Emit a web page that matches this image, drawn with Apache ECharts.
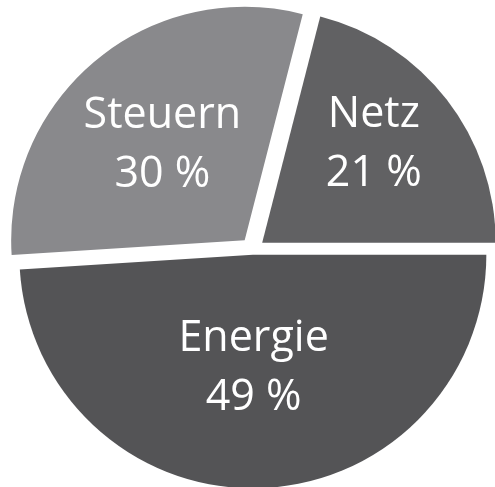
<!DOCTYPE html>
<html>
<head>
<meta charset="utf-8">
<script src="https://cdn.jsdelivr.net/npm/echarts@6/dist/echarts.min.js"></script>
<style>html,body{margin:0;padding:0;background:#fff;}#c{width:495px;height:487px;}</style>
</head>
<body>
<div id="c"></div>
<script>
// Data
const categories = ['Netz', 'Energie', 'Steuern'];
const shares = [21, 49, 30];

// Styling (kept separate from data)
const sliceColors = ['#616163', '#545456', '#89898c'];
const explode = [12, 4.8, 12.6];
const labelShift = [[17, -25], [-3, -6], [-6, -3]];

const chart = echarts.init(document.getElementById('c'), null, {renderer: 'canvas'});

const series = categories.map(function (name, i) {
  return {
    type: 'pie',
    name: name,
    center: [252.7, 250],
    radius: 233.5,
    startAngle: 75.6,
    clockwise: true,
    silent: true,
    animation: false,
    avoidLabelOverlap: false,
    selectedMode: 'single',
    selectedOffset: explode[i],
    emphasis: {disabled: true},
    labelLine: {show: false},
    labelLayout: function () {
      return {dx: labelShift[i][0], dy: labelShift[i][1]};
    },
    data: categories.map(function (c, j) {
      const visible = (j === i);
      const col = visible ? sliceColors[j] : 'rgba(0,0,0,0)';
      return {
        name: c,
        value: shares[j],
        selected: visible,
        itemStyle: {color: col, borderWidth: 0},
        select: {itemStyle: {color: col, borderWidth: 0}, label: {show: visible}},
        label: {
          show: visible,
          position: 'inside',
          formatter: '{b}\n{c} %',
          color: '#ffffff',
          fontFamily: 'Open Sans',
          fontSize: 43,
          lineHeight: 59,
          align: 'center'
        }
      };
    })
  };
});

chart.setOption({
  backgroundColor: '#ffffff',
  animation: false,
  series: series
});
</script>
</body>
</html>
